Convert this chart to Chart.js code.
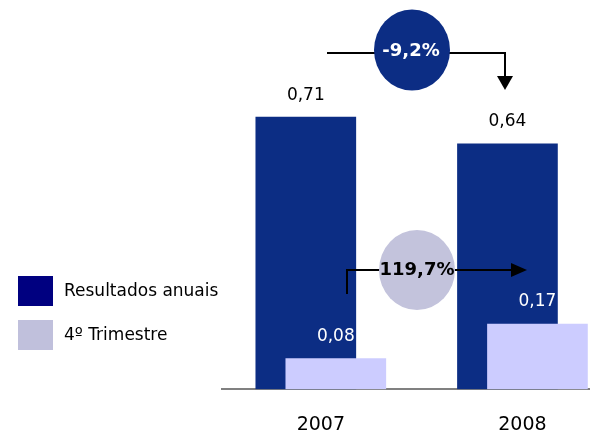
<!DOCTYPE html>
<html>
<head>
<meta charset="utf-8">
<script src="https://cdn.jsdelivr.net/npm/chart.js@4"></script>
<style>
  html, body { margin: 0; padding: 0; background: #fff; }
  #wrap { width: 594px; height: 437px; }
</style>
</head>
<body>
<div id="wrap"><canvas id="resultsChart" width="594" height="437"></canvas></div>
<script>
// Data
const years = ["2007", "2008"];
const annualResults = [0.71, 0.64];
const fourthQuarter = [0.08, 0.17];
const seriesNames = ["Resultados anuais", "4º Trimestre"];
const changeLabels = ["-9,2%", "119,7%"];

const FONT = "'DejaVu Sans', sans-serif";
const DARK = "#0c2d84";
const LIGHT = "#ccccff";

// x range in category units; bars of the two series sit 15px either side of the group centre
const X_MIN = -0.49;
const X_MAX = 1.33;
const SHIFT = 15 / (367 / (X_MAX - X_MIN));

const fmt = v => v.toFixed(2).replace(".", ",");

// value above every bar
const valueLabels = {
  id: "valueLabels",
  afterDatasetsDraw(chart) {
    const ctx = chart.ctx;
    ctx.save();
    ctx.font = "17px " + FONT;
    ctx.textAlign = "center";
    ctx.textBaseline = "middle";
    chart.data.datasets.forEach((ds, i) => {
      const meta = chart.getDatasetMeta(i);
      meta.data.forEach((bar, j) => {
        ctx.fillStyle = i === 0 ? "#000" : "#fff";
        ctx.fillText(fmt(ds.data[j].y), bar.x, bar.y - 22);
      });
    });
    ctx.restore();
  }
};

// growth bubbles and arrows
const changeNotes = {
  id: "changeNotes",
  afterDatasetsDraw(chart) {
    const ctx = chart.ctx;
    ctx.save();
    ctx.strokeStyle = "#000";
    ctx.fillStyle = "#000";
    ctx.lineWidth = 2;

    // annual: 2007 -> 2008
    ctx.beginPath();
    ctx.moveTo(327, 53);
    ctx.lineTo(505, 53);
    ctx.lineTo(505, 77);
    ctx.stroke();
    ctx.beginPath();
    ctx.moveTo(497, 76);
    ctx.lineTo(513, 76);
    ctx.lineTo(505, 90);
    ctx.closePath();
    ctx.fill();

    ctx.fillStyle = DARK;
    ctx.beginPath();
    ctx.ellipse(412, 50, 38, 40.5, 0, 0, Math.PI * 2);
    ctx.fill();

    // fourth quarter: 2007 -> 2008
    ctx.beginPath();
    ctx.moveTo(347, 294);
    ctx.lineTo(347, 270);
    ctx.lineTo(512, 270);
    ctx.stroke();
    ctx.fillStyle = "#000";
    ctx.beginPath();
    ctx.moveTo(511, 263);
    ctx.lineTo(527, 270);
    ctx.lineTo(511, 277);
    ctx.closePath();
    ctx.fill();

    ctx.fillStyle = "#c3c3dc";
    ctx.beginPath();
    ctx.ellipse(417, 270, 38, 40, 0, 0, Math.PI * 2);
    ctx.fill();

    ctx.textAlign = "center";
    ctx.textBaseline = "middle";
    ctx.font = "bold 18px " + FONT;
    ctx.fillStyle = "#fff";
    ctx.fillText(changeLabels[0], 411, 51);
    ctx.fillStyle = "#000";
    ctx.fillText(changeLabels[1], 417, 270);
    ctx.restore();
  }
};

// legend on the left
const sideLegend = {
  id: "sideLegend",
  afterDraw(chart) {
    const ctx = chart.ctx;
    const boxColors = ["#000080", "#c0c0dc"];
    ctx.save();
    ctx.font = "17px " + FONT;
    ctx.textBaseline = "middle";
    seriesNames.forEach((name, i) => {
      const y = 276 + i * 44;
      ctx.fillStyle = boxColors[i];
      ctx.fillRect(18, y, 35, 30);
      ctx.fillStyle = "#000";
      ctx.fillText(name, 64, y + 16);
    });
    ctx.restore();
  }
};

const hiddenX = shift => ({
  type: "linear", display: false, offset: false, bounds: "data",
  min: X_MIN + shift, max: X_MAX + shift
});

new Chart(document.getElementById("resultsChart"), {
  type: "bar",
  data: {
    datasets: [
      {
        label: seriesNames[0],
        data: annualResults.map((v, i) => ({ x: i, y: v })),
        backgroundColor: DARK,
        xAxisID: "xDark",
        barThickness: 100,
        grouped: false,
        order: 2
      },
      {
        label: seriesNames[1],
        data: fourthQuarter.map((v, i) => ({ x: i, y: v })),
        backgroundColor: LIGHT,
        xAxisID: "xLight",
        barThickness: 100,
        grouped: false,
        order: 1
      }
    ]
  },
  options: {
    responsive: false,
    animation: false,
    layout: { padding: { left: 222, right: 5, top: 6, bottom: -23 } },
    plugins: { legend: { display: false }, tooltip: { enabled: false } },
    scales: {
      x: {
        type: "linear",
        offset: false,
        bounds: "data",
        min: X_MIN,
        max: X_MAX,
        grid: { display: false, drawTicks: false, offset: false },
        border: { display: true, color: "#808080", width: 2 },
        afterBuildTicks: axis => { axis.ticks = years.map((_, i) => ({ value: i })); },
        ticks: {
          padding: 24,
          color: "#000",
          font: { family: FONT, size: 19 },
          callback: v => years[v]
        }
      },
      xDark: hiddenX(SHIFT),
      xLight: hiddenX(-SHIFT),
      y: { display: false, min: 0, max: 1 }
    }
  },
  plugins: [valueLabels, changeNotes, sideLegend]
});
</script>
</body>
</html>
